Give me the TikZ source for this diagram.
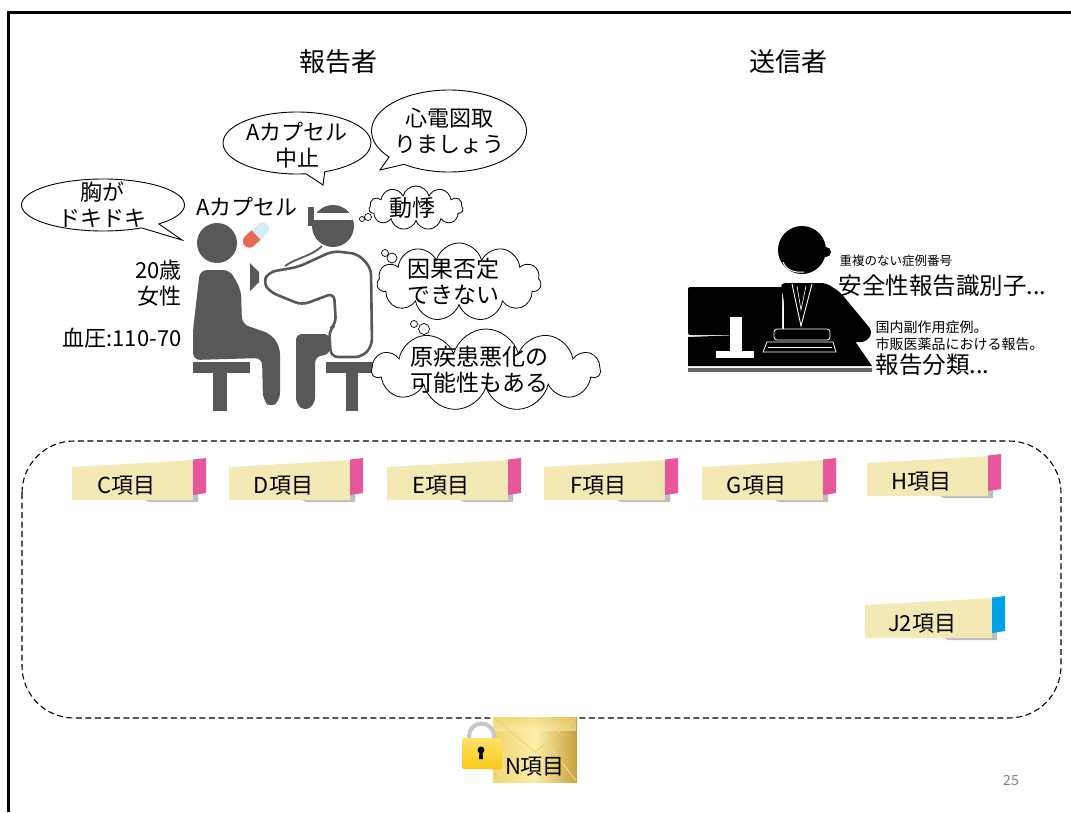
\documentclass[tikz,border=0pt]{standalone}
\usepackage{fontspec}
\setmainfont{Noto Sans CJK JP}
\usetikzlibrary{shapes.callouts,shapes.symbols,shapes.geometric}

\definecolor{figgray}{RGB}{88,88,88}
\definecolor{notebeige}{RGB}{243,233,181}
\definecolor{notepink}{RGB}{232,87,155}
\definecolor{noteblue}{RGB}{0,160,233}
\definecolor{noteshadow}{RGB}{190,190,190}
\definecolor{pillred}{RGB}{232,105,80}
\definecolor{pillblue}{RGB}{214,234,248}
\definecolor{goldlight}{RGB}{252,238,170}
\definecolor{goldmid}{RGB}{240,212,110}
\definecolor{golddark}{RGB}{200,160,60}
\definecolor{lockyellow}{RGB}{250,200,20}
\definecolor{locklight}{RGB}{255,226,110}
\definecolor{pagegray}{RGB}{128,128,128}

\tikzset{
  title/.style={font=\fontsize{26}{30}\selectfont},
  speech/.style={ellipse callout, draw=black, line width=0.9pt, fill=white, inner sep=0pt},
  thought/.style={cloud, cloud puffs=11, cloud ignores aspect, draw=black, line width=0.8pt, fill=white, inner sep=0pt},
  puff/.style={circle, inner sep=0pt, draw=black, line width=0.7pt, fill=white},
  bubbletext/.style={align=center, font=\fontsize{22}{26}\selectfont},
  cloudtext/.style={align=center, font=\fontsize{23}{26}\selectfont},
  smalltext/.style={anchor=west, font=\fontsize{12.5}{14}\selectfont},
  mediumtext/.style={anchor=west, font=\fontsize{14}{16}\selectfont},
  bigtext/.style={anchor=west, font=\fontsize{23.5}{26}\selectfont},
  notetext/.style={font=\fontsize{22}{24}\selectfont},
  pagenum/.style={text=pagegray, font=\fontsize{14}{16}\selectfont},
  pics/note/.style n args={3}{code={
    % shadow, paper, coloured tab, caption; #3 is the paper width
    \fill[noteshadow] (#3-48,42) -- (#3+5,35) -- (#3+5,44) -- (#3-44,44) -- cycle;
    \fill[notebeige] (0,9) .. controls (#3*0.45,6) and (#3*0.8,3.5) .. (#3,2)
                     -- (#3,42) -- (0,42) -- cycle;
    \fill[#2] (#3,1.5) -- (#3+13,0) -- (#3+13,35) -- (#3,37) -- cycle;
    \node[notetext] (-label) at (#3*0.45,28) {#1};
  }}
}

\begin{document}
\begin{tikzpicture}[x=1pt,y=-1pt]
\useasboundingbox (0,0) rectangle (1071,812);

% slide frame
\draw[line width=3pt] (8,812) -- (8,12) -- (1071,12);

% column headings
\node[title] (reporter) at (338,62) {報告者};
\node[title] (sender) at (788,62) {送信者};

% ---------- clinic scene ----------
% patient
\fill[figgray] (217,243) circle (20);
\fill[figgray, rounded corners=7] (200,270) -- (230,270) -- (241,290) -- (242,324)
   -- (271,334) -- (280,347) -- (280,400) -- (271,408) -- (263,400) -- (262,358)
   -- (193,360) -- (193,330) -- cycle;
\fill[figgray] (193,362) rectangle (250,373);
\fill[figgray] (213,373) rectangle (227,411);

% capsule
\begin{scope}[shift={(256,235)}, rotate=43]
  \fill[pillblue] (0,-6.5) -- (9,-6.5) arc(-90:90:6.5) -- (0,6.5) -- cycle;
  \fill[pillred] (0,6.5) -- (-9,6.5) arc(90:270:6.5) -- (0,-6.5) -- cycle;
\end{scope}

% doctor
\fill[figgray] (326,362) rectangle (378,373);
\fill[figgray] (346,373) rectangle (358,411);
\fill[figgray, rounded corners=6] (296,334) -- (330,334) -- (330,354) -- (315,357)
   -- (315,404) -- (305,411) -- (296,404) -- cycle;
\draw[figgray, line width=2.6pt, fill=white, rounded corners=7]
   (333,251) -- (358,254) -- (371,268) -- (372,346) -- (362,357) -- (331,357)
   -- (329,330) -- (336,324) -- (334,293) -- (302,305) -- (270,292) -- (263,282)
   -- (269,272) -- (298,267) -- cycle;
\fill[figgray] (250,263) -- (259,272) -- (259,282) -- (250,291) -- cycle;
\fill[figgray] (333,226) circle (21);
\begin{scope}
  \clip (333,226) circle (21);
  \fill[white] (310,213) rectangle (360,220);
\end{scope}
\fill[figgray] (308,207) rectangle (314,226);
\draw[figgray, line width=1.8pt] (322,246) .. controls (312,256) and (296,258) .. (285,266);

% speech bubbles
\node[speech, minimum width=163, minimum height=52, callout absolute pointer={(182,240)}] (chest) at (103,205) {};
\node[bubbletext] (chest-text) at (102,205) {胸が\\ドキドキ};
\node[speech, minimum width=148, minimum height=62, callout absolute pointer={(323,185)}] (stop) at (297,143) {};
\node[bubbletext] (stop-text) at (297,145) {Aカプセル\\中止};
\node[speech, minimum width=155, minimum height=82, callout absolute pointer={(380,170)}] (ecg) at (449,131) {};
\node[bubbletext] (ecg-text) at (449,131) {心電図取\\りましょう};

% patient data
\node[bubbletext] (drug) at (247,207) {Aカプセル};
\node[bubbletext, anchor=east, align=right] (age) at (185,283) {20歳\\女性};
\node[bubbletext, anchor=east] (bp) at (185,338) {血圧:110-70};

% thoughts of the doctor
\node[thought, minimum width=94, minimum height=44] (palp) at (416,208) {};
\node[cloudtext] (palp-text) at (412,208) {動悸};
\node[puff, minimum size=5pt] (palp-p1) at (362,219) {};
\node[puff, minimum size=7pt] (palp-p2) at (368,217) {};

\node[thought, minimum width=164, minimum height=78] (cause) at (459,282) {};
\node[cloudtext] (cause-text) at (453,281) {因果否定\\できない};
\node[puff, minimum size=7pt] (cause-p1) at (385,253) {};
\node[puff, minimum size=10pt] (cause-p2) at (392,258) {};

\node[thought, minimum width=228, minimum height=82] (worse) at (486,370) {};
\node[cloudtext] (worse-text) at (479,370) {原疾患悪化の\\可能性もある};
\node[puff, minimum size=7pt] (worse-p1) at (414,324) {};
\node[puff, minimum size=11pt] (worse-p2) at (424,329) {};

% ---------- sender at the desk ----------
\fill[black!60] (688,368) rectangle (872,372);
\fill[black] (688,337) -- (848,331) -- (872,366) -- (688,366) -- cycle;
\fill[black, rounded corners=2] (688,287) rectangle (782,335);
\fill[white] (730,317) rectangle (742,354);
\fill[white] (716,351) rectangle (754,358);
\fill[black, rounded corners=5] (780,283) -- (826,283) -- (840,292) -- (873,332)
   -- (866,342) -- (832,342) -- (784,340) -- (784,300) -- cycle;
\fill[black] (802,250) circle (24);
\fill[black] (826,252) circle (5);
\draw[white, line width=1pt] (783,262) .. controls (786,270) and (794,273) .. (804,272);
\draw[white, line width=0.9pt] (792,284) -- (801,326) -- (812,284);
\draw[white, line width=0.6pt] (797,286) -- (801,310) -- (806,286);
\draw[white, line width=0.8pt, fill=black, rounded corners=3] (774,329) rectangle (830,340);
\draw[white, line width=0.8pt] (767,342) -- (833,342) -- (836,352) -- (763,352) -- cycle;
\draw[white, line width=0.5pt] (768,347) -- (832,347);

\node[smalltext] (caseid-note) at (836,261) {重複のない症例番号};
\node[bigtext] (caseid) at (835,286) {安全性報告識別子...};
\node[mediumtext] (kind1) at (872,327) {国内副作用症例。};
\node[mediumtext] (kind2) at (872,344) {市販医薬品における報告。};
\node[bigtext] (kind) at (872,365) {報告分類...};

% ---------- data items ----------
\draw[line width=1.1pt, dash pattern=on 6pt off 3.5pt, rounded corners=52] (22,441) rectangle (1061,718);

\pic (nc) at (72,458) {note={C項目}{notepink}{121}};
\pic (nd) at (229,458) {note={D項目}{notepink}{121}};
\pic (ne) at (387,458) {note={E項目}{notepink}{121}};
\pic (nf) at (544,458) {note={F項目}{notepink}{121}};
\pic (ng) at (702,458) {note={G項目}{notepink}{121}};
\pic (nh) at (867,454) {note={H項目}{notepink}{121}};
\pic (nj) at (865,596) {note={J2項目}{noteblue}{127}};

% sealed envelope with padlock
\shade[left color=goldmid, right color=golddark, middle color=goldlight] (493,717) rectangle (577,782);
\shade[top color=goldmid, bottom color=goldlight, opacity=0.6] (493,717) rectangle (577,730);
\draw[goldmid, line width=0.9pt] (493,717) -- (535,752) -- (577,717);
\draw[goldmid!80, line width=0.8pt] (493,782) -- (522,745);
\draw[goldmid!80, line width=0.8pt] (577,782) -- (548,745);
\draw[golddark, line width=1pt] (576.5,717) -- (576.5,782);
\draw[black!22, line width=4pt] (469,742) -- (469,736) arc(180:360:12.5) -- (494,742);
\shade[top color=locklight, bottom color=lockyellow, rounded corners=2] (462,738) rectangle (502,769);
\fill[black] (481,750) circle (3.5);
\fill[black] (479.5,751) -- (482.5,751) -- (483,759) -- (479,759) -- cycle;
\node[notetext] (nitem) at (535,767) {N項目};

\node[pagenum] (page) at (1011,780) {25};
\end{tikzpicture}
\end{document}
